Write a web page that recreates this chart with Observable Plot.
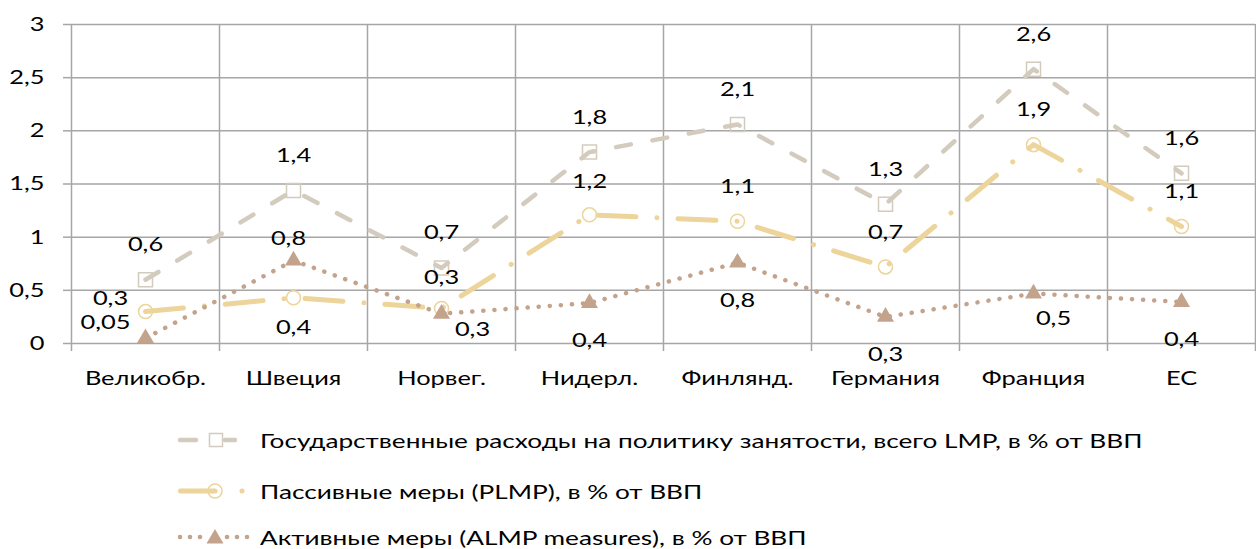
<!DOCTYPE html>
<html>
<head>
<meta charset="utf-8">
<script src="https://cdn.jsdelivr.net/npm/d3@7"></script>
<script src="https://cdn.jsdelivr.net/npm/@observablehq/plot@0.6"></script>
<style>
  html, body { margin: 0; padding: 0; background: #fff; }
  #chart { width: 1256px; }
  #legend { font-family: Lato, "Open Sans", sans-serif; font-size: 20px; color: #000; padding-top: 4px; }
  .row { display: flex; align-items: center; padding-left: 178px; }
  .row svg { display: block; flex: none; }
  .row .lt { display: inline-block; transform: scaleX(1.31); transform-origin: left center; white-space: nowrap; }
</style>
</head>
<body>
<div id="chart"></div>
<div id="legend"></div>
<script>
// ---- data ----
const categories = ["Великобр.", "Швеция", "Норвег.", "Нидерл.", "Финлянд.", "Германия", "Франция", "ЕС"];
const lmpValues  = [0.60, 1.44, 0.71, 1.80, 2.06, 1.31, 2.58, 1.60];
const plmpValues = [0.30, 0.43, 0.33, 1.21, 1.15, 0.72, 1.87, 1.10];
const almpValues = [0.05, 0.78, 0.28, 0.38, 0.76, 0.25, 0.47, 0.39];
const lmpLabels  = ["0,6", "1,4", "0,7", "1,8", "2,1", "1,3", "2,6", "1,6"];
const plmpLabels = ["0,3", "0,4", "0,3", "1,2", "1,1", "0,7", "1,9", "1,1"];
const almpLabels = ["0,05", "0,8", "0,3", "0,4", "0,8", "0,3", "0,5", "0,4"];
const yTicks = [0, 0.5, 1, 1.5, 2, 2.5, 3];
const seriesNames = [
  "Государственные расходы на политику занятости, всего LMP, в % от ВВП",
  "Пассивные меры (PLMP), в % от ВВП",
  "Активные меры (ALMP measures), в % от ВВП"
];

// ---- styles ----
const GRID = "#a6a6a6";
const C_LMP = "#d3cbbd", C_PLMP = "#ecd49b", C_ALMP = "#c4a38d";
const TEXT_SCALE = 1.27;

const data = categories.map((c, i) => ({
  i, category: c,
  lmp: lmpValues[i], plmp: plmpValues[i], almp: almpValues[i],
  lmpLabel: lmpLabels[i], plmpLabel: plmpLabels[i], almpLabel: almpLabels[i]
}));
const centers = d3.range(categories.length);
const boundaries = d3.range(categories.length + 1).map(k => k - 0.5);
const fmt = d => String(d).replace(".", ",");

// label placement (pixel offsets of label centre relative to the point)
const offsets = {
  lmp:  [[0,-35],[0,-35],[0,-35],[0,-35],[0,-35],[0,-35],[0,-35],[0,-35]],
  plmp: [[-35,-13],[0,30],[0,-31],[0,-33],[0,-35],[0,-34],[0,-35],[0,-35]],
  almp: [[-40,-16],[-5,-22],[31,16],[0,38],[0,38],[0,38],[20,25],[0,38]]
};
const labelMarks = [];
for (const key of ["lmp", "plmp", "almp"]) {
  data.forEach((d, k) => {
    labelMarks.push(Plot.text([d], {
      x: "i", y: key, text: key + "Label",
      dx: offsets[key][k][0], dy: offsets[key][k][1],
      fill: "#000", fontSize: 20
    }));
  });
}

const chart = Plot.plot({
  width: 1256,
  height: 410,
  marginLeft: 71,
  marginRight: 1,
  marginTop: 24,
  marginBottom: 67,
  style: { fontFamily: "Lato, 'Open Sans', sans-serif", fontSize: "20px", background: "#fff", color: "#000" },
  x: { type: "linear", domain: [-0.5, categories.length - 0.5] },
  y: { domain: [0, 3] },
  marks: [
    Plot.gridY(yTicks, { stroke: GRID, strokeOpacity: 1, strokeWidth: 1.5 }),
    Plot.gridX(boundaries, { stroke: GRID, strokeOpacity: 1, strokeWidth: 1.5 }),
    Plot.axisY(yTicks, { tickSize: 8, tickPadding: 19, stroke: GRID, strokeWidth: 1.5, fill: "#000", tickFormat: fmt, label: null }),
    Plot.axisX(boundaries, { tickSize: 8, stroke: GRID, strokeWidth: 1.5, tickFormat: () => "", label: null }),
    Plot.axisX(centers, { tickSize: 0, tickPadding: 27, fill: "#000", tickFormat: i => categories[i], label: null }),
    Plot.line(data, { x: "i", y: "lmp", stroke: C_LMP, strokeWidth: 4.5, strokeDasharray: "15,22", strokeLinecap: "round", strokeLinejoin: "round" }),
    Plot.line(data, { x: "i", y: "plmp", stroke: C_PLMP, strokeWidth: 5, strokeDasharray: "38,21,0.1,21", strokeLinecap: "round", strokeLinejoin: "round" }),
    Plot.line(data, { x: "i", y: "almp", stroke: C_ALMP, strokeWidth: 4.5, strokeDasharray: "0.1,11", strokeLinecap: "round", strokeLinejoin: "round" }),
    Plot.dot(data, { x: "i", y: "lmp", symbol: "square", r: 7.9, stroke: C_LMP, strokeWidth: 1.5, fill: "none" }),
    Plot.dot(data, { x: "i", y: "plmp", symbol: "circle", r: 7, stroke: C_PLMP, strokeWidth: 1.5, fill: "none" }),
    Plot.dot(data, { x: "i", y: "almp", symbol: "triangle", r: 6.3, fill: C_ALMP, stroke: "none" }),
    ...labelMarks
  ]
});
document.getElementById("chart").appendChild(chart);

// widen glyphs horizontally to mimic the reference's wide lettering
chart.querySelectorAll("text").forEach(t => {
  const L = t.getComputedTextLength();
  if (L > 0) {
    t.setAttribute("textLength", (L * TEXT_SCALE).toFixed(2));
    t.setAttribute("lengthAdjust", "spacingAndGlyphs");
  }
});

// ---- legend ----
const swatches = [
  `<svg width="82" height="24">
     <line x1="2" x2="18" y1="12" y2="12" stroke="${C_LMP}" stroke-width="4.5" stroke-linecap="round"/>
     <line x1="47" x2="57" y1="12" y2="12" stroke="${C_LMP}" stroke-width="4.5" stroke-linecap="round"/>
     <rect x="31.5" y="5.5" width="13" height="13" fill="none" stroke="${C_LMP}" stroke-width="1.5"/>
   </svg>`,
  `<svg width="82" height="24">
     <line x1="2.5" x2="37" y1="12" y2="12" stroke="${C_PLMP}" stroke-width="5" stroke-linecap="round"/>
     <circle cx="37" cy="12" r="7" fill="none" stroke="${C_PLMP}" stroke-width="1.5"/>
     <circle cx="64" cy="12" r="2.5" fill="${C_PLMP}"/>
   </svg>`,
  `<svg width="82" height="24">
     ${[2, 12, 22, 49, 59, 69].map(cx => `<circle cx="${cx}" cy="12" r="2.3" fill="${C_ALMP}"/>`).join("")}
     <path d="M37,4 L45.5,18.5 L28.5,18.5 Z" fill="${C_ALMP}"/>
   </svg>`
];
const rowHeights = [52, 50, 42];
document.getElementById("legend").innerHTML = seriesNames.map((name, k) =>
  `<div class="row" style="height:${rowHeights[k]}px">${swatches[k]}<span class="lt">${name}</span></div>`
).join("");
</script>
</body>
</html>
